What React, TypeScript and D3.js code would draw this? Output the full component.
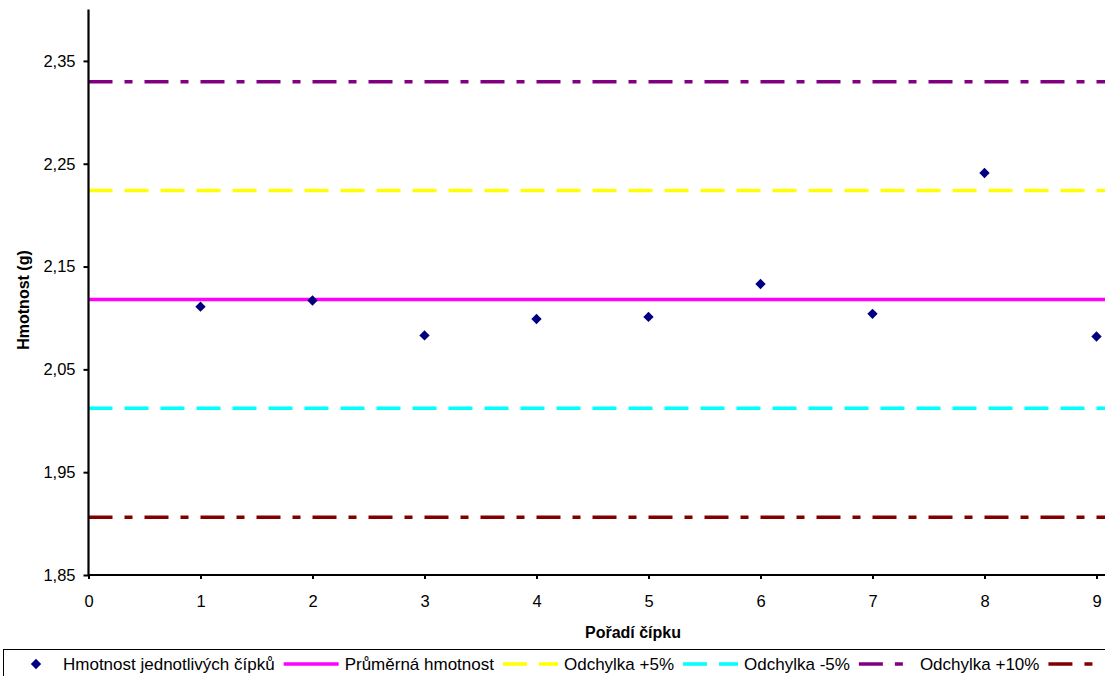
import React, { useEffect, useRef } from "react";
import * as d3 from "d3";

// Individual suppository weights (g), by order number
const positions = [1, 2, 3, 4, 5, 6, 7, 8, 9];
const weights = [2.111, 2.117, 2.083, 2.099, 2.101, 2.133, 2.104, 2.241, 2.082];

// Reference levels (g)
const meanWeight = 2.118;
const levelNames = ["Průměrná hmotnost", "Odchylka +5%", "Odchylka -5%", "Odchylka +10%", "Odchylka -10%"];
const levelValues = [meanWeight, 2.2239, 2.0121, 2.3298, 1.9062];
const levelColors = ["#ff00ff", "#ffff00", "#00ffff", "#800080", "#800000"];
const levelDashes = ["none", "24,12", "24,12", "24,12,8,12", "24,12,8,12"];

const pointName = "Hmotnost jednotlivých čípků";
const xTicks = [0, 1, 2, 3, 4, 5, 6, 7, 8, 9];
const yTicks = [1.85, 1.95, 2.05, 2.15, 2.25, 2.35];

const W = 1105;
const H = 676;
const FONT = "'Liberation Sans', Arial, Helvetica, sans-serif";

export default function App() {
  const ref = useRef<SVGSVGElement>(null);

  useEffect(() => {
    const svg = d3.select(ref.current);
    svg.selectAll("*").remove();

    const left = 88.5;
    const right = 1096.5;
    const top = 9.5;
    const bottom = 575;

    const x = d3.scaleLinear().domain([0, 9]).range([left, right]);
    const y = d3.scaleLinear().domain([1.85, 2.4]).range([bottom, top]);

    const fmt = (v: number) => d3.format(".2f")(v).replace(".", ",");

    // Reference lines run across the full plot width
    const lines = svg.append("g");
    levelValues.forEach((v, i) => {
      lines
        .append("line")
        .attr("x1", x(0))
        .attr("x2", W)
        .attr("y1", y(v))
        .attr("y2", y(v))
        .attr("stroke", levelColors[i])
        .attr("stroke-width", 3.5)
        .attr("stroke-dasharray", levelDashes[i]);
    });

    // Points
    const diamond = d3.symbol().type(d3.symbolDiamond2).size(68);
    svg
      .append("g")
      .selectAll("path")
      .data(weights)
      .join("path")
      .attr("d", diamond)
      .attr("transform", (d, i) => `translate(${x(positions[i])},${y(d)})`)
      .attr("fill", "#000080");

    // Y axis
    const yAxis = svg
      .append("g")
      .attr("transform", `translate(${left},0)`)
      .call(
        d3
          .axisLeft(y)
          .tickValues(yTicks)
          .tickFormat((d) => fmt(d as number))
          .tickSize(5)
          .tickPadding(8)
      );
    yAxis.select(".domain").attr("stroke", "#000").attr("stroke-width", 2.2).attr("d", `M0,${top}V${bottom}`);
    yAxis.selectAll(".tick line").attr("stroke", "#000").attr("stroke-width", 2);
    yAxis.selectAll("text").attr("font-family", FONT).attr("font-size", 16.5).attr("fill", "#000");

    // X axis
    const xAxis = svg
      .append("g")
      .attr("transform", `translate(0,${bottom})`)
      .call(d3.axisBottom(x).tickValues(xTicks).tickFormat((d) => String(d)).tickSize(4).tickPadding(16));
    xAxis.select(".domain").attr("stroke", "#000").attr("stroke-width", 2.2).attr("d", `M${left},0H${W}`);
    xAxis.selectAll(".tick line").attr("stroke", "#000").attr("stroke-width", 2);
    xAxis.selectAll("text").attr("font-family", FONT).attr("font-size", 16.5).attr("fill", "#000");

    // Axis titles
    svg
      .append("text")
      .attr("x", 633)
      .attr("y", 638)
      .attr("text-anchor", "middle")
      .attr("font-family", FONT)
      .attr("font-weight", "bold")
      .attr("font-size", 16)
      .text("Pořadí čípku");
    svg
      .append("text")
      .attr("transform", `translate(28.5,300) rotate(-90)`)
      .attr("text-anchor", "middle")
      .attr("font-family", FONT)
      .attr("font-weight", "bold")
      .attr("font-size", 16)
      .text("Hmotnost (g)");

    // Legend
    const legend = svg.append("g");
    legend
      .append("rect")
      .attr("x", 3.5)
      .attr("y", 649.5)
      .attr("width", 1120)
      .attr("height", 60)
      .attr("fill", "#fff")
      .attr("stroke", "#000")
      .attr("stroke-width", 1);
    const ly = 664;
    legend
      .append("path")
      .attr("d", diamond)
      .attr("transform", `translate(36,${ly})`)
      .attr("fill", "#000080");
    let cx = 63;
    const addText = (t: string) => {
      const el = legend
        .append("text")
        .attr("x", cx)
        .attr("y", ly + 6)
        .attr("font-family", FONT)
        .attr("font-size", 17)
        .text(t);
      const w = (el.node() as SVGTextElement).getComputedTextLength();
      cx += w + 9;
    };
    addText(pointName);
    levelNames.forEach((name, i) => {
      legend
        .append("line")
        .attr("x1", cx)
        .attr("x2", cx + 55)
        .attr("y1", ly)
        .attr("y2", ly)
        .attr("stroke", levelColors[i])
        .attr("stroke-width", 3.5)
        .attr("stroke-dasharray", levelDashes[i]);
      cx += 61;
      if (i < levelNames.length - 1) addText(name);
    });
  }, []);

  return (
    <svg
      ref={ref}
      width={W}
      height={H}
      style={{ position: "absolute", left: 0, top: 0, background: "#fff" }}
    />
  );
}
